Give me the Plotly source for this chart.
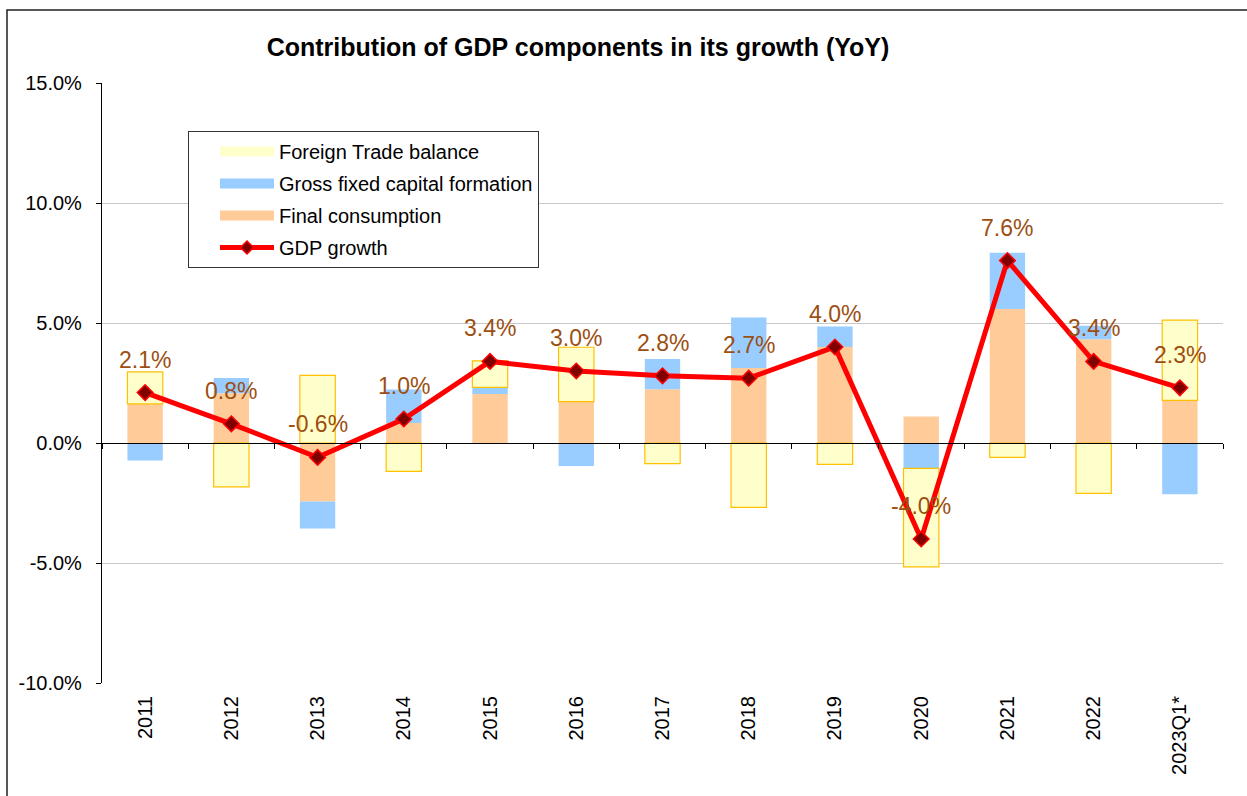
import plotly.graph_objects as go

years = ["2011", "2012", "2013", "2014", "2015", "2016", "2017", "2018",
         "2019", "2020", "2021", "2022", "2023Q1*"]
final_consumption = [1.63, 2.07, -2.44, 0.83, 2.04, 1.72, 2.24, 3.13, 4.00, 1.10, 5.58, 4.32, 1.78]
gross_fixed_capital = [-0.73, 0.64, -1.12, 1.40, 0.28, -0.96, 1.26, 2.10, 0.85, -1.06, 2.35, 0.57, -2.14]
foreign_trade = [1.33, -1.83, 2.82, -1.18, 1.10, 2.27, -0.86, -2.68, -0.89, -4.10, -0.60, -2.10, 3.34]
gdp_growth = [2.1, 0.8, -0.6, 1.0, 3.4, 3.0, 2.8, 2.7, 4.0, -4.0, 7.6, 3.4, 2.3]
y_ticks = [-10, -5, 0, 5, 10, 15]

C_CONS = "#FFCC99"
C_GFCF = "#99CCFF"
C_TRADE = "#FFFFCC"
C_TRADE_LINE = "#FFC000"
C_GDP = "#FF0000"
C_MARK = "#800000"
C_LABEL = "#9C4F12"
FONT = "Liberation Sans, Arial, sans-serif"

fig = go.Figure()

fig.add_trace(go.Bar(x=years, y=final_consumption, name="Final consumption",
                     marker=dict(color=C_CONS, line=dict(width=0)), showlegend=False))
fig.add_trace(go.Bar(x=years, y=gross_fixed_capital, name="Gross fixed capital formation",
                     marker=dict(color=C_GFCF, line=dict(width=0)), showlegend=False))
fig.add_trace(go.Bar(x=years, y=foreign_trade, name="Foreign Trade balance",
                     marker=dict(color=C_TRADE, line=dict(color=C_TRADE_LINE, width=1.2)),
                     showlegend=False))
fig.add_trace(go.Scatter(x=years, y=gdp_growth, name="GDP growth", mode="lines+markers",
                         line=dict(color=C_GDP, width=5),
                         marker=dict(symbol="diamond", size=12, color=C_MARK,
                                     line=dict(color=C_GDP, width=1.5)),
                         showlegend=False))

# legend entries (legend only)
leg = [("Foreign Trade balance", C_TRADE),
       ("Gross fixed capital formation", C_GFCF),
       ("Final consumption", C_CONS)]
for i, (nm, col) in enumerate(leg):
    fig.add_trace(go.Scatter(x=[None], y=[None], name=nm, mode="lines",
                             line=dict(color=col, width=10), legendgroup=f"g{i}",
                             showlegend=True))
fig.add_trace(go.Scatter(x=[None], y=[None], name="GDP growth", mode="lines+markers",
                         line=dict(color=C_GDP, width=5), legendgroup="g3",
                         marker=dict(symbol="diamond", size=10, color=C_MARK,
                                     line=dict(color=C_GDP, width=1.5)),
                         showlegend=True))

# overlay axis at zero (tick marks at category boundaries)
fig.add_trace(go.Scatter(x=years, y=[None] * len(years), xaxis="x2", mode="lines",
                         showlegend=False, hoverinfo="skip"))

# value labels (x given as category index so "2011" is not read as a number)
for i, v in enumerate(gdp_growth):
    fig.add_annotation(x=i, y=v, xref="x", yref="y", text=f"{v:.1f}%", showarrow=False,
                       yshift=33, yanchor="middle",
                       font=dict(family=FONT, size=23, color=C_LABEL))

W, H = 1247, 796
ml, mr, mt, mb = 102, 24, 83, 113
pw, ph = W - ml - mr, H - mt - mb

# outer chart border (cut at right/bottom in reference)
fig.add_shape(type="rect", xref="paper", yref="paper",
              x0=(7 - ml) / pw, x1=(W + 20 - ml) / pw,
              y0=-(mb + 20) / ph, y1=(H - 10 - mb) / ph,
              line=dict(color="#202020", width=1.5), fillcolor="rgba(0,0,0,0)", layer="below")

xrange = [-0.5, len(years) - 0.5]
fig.update_layout(
    width=W, height=H,
    margin=dict(l=ml, r=mr, t=mt, b=mb),
    paper_bgcolor="white", plot_bgcolor="white",
    barmode="relative", bargap=0.59,
    font=dict(family=FONT, size=20, color="black"),
    title=dict(text="<b>Contribution of GDP components in its growth (YoY)</b>",
               font=dict(family=FONT, size=25, color="black"),
               xref="container", x=578 / W, xanchor="center",
               yref="container", y=1 - 47 / H, yanchor="middle"),
    legend=dict(x=(188 - ml) / pw, y=(H - 131 - mb) / ph, xanchor="left", yanchor="top",
                bordercolor="#333333", borderwidth=1, bgcolor="white",
                font=dict(family=FONT, size=20, color="black"),
                itemwidth=54, indentation=26, entrywidth=327,
                traceorder="grouped", tracegroupgap=3,
                itemclick=False, itemdoubleclick=False),
    xaxis=dict(type="category", categoryorder="array", categoryarray=years, range=xrange,
               showline=False, ticks="", tickangle=-90, showgrid=False, zeroline=False,
               tickfont=dict(family=FONT, size=20, color="black"), ticklabelstandoff=8),
    xaxis2=dict(type="category", categoryorder="array", categoryarray=years, range=xrange,
                overlaying="x", anchor="free", position=0.4, side="bottom",
                showline=True, linecolor="black", linewidth=1.2,
                ticks="outside", tickson="boundaries", ticklen=5, tickcolor="black",
                showticklabels=False, showgrid=False, zeroline=False),
    yaxis=dict(range=[y_ticks[0], y_ticks[-1]], tickvals=y_ticks,
               ticktext=[f"{t:.1f}%" for t in y_ticks],
               showline=True, linecolor="black", linewidth=1.2,
               ticks="outside", ticklen=5, tickcolor="black",
               showgrid=True, gridcolor="#C8C8C8", gridwidth=1.2, zeroline=False,
               tickfont=dict(family=FONT, size=20, color="black"), ticklabelstandoff=10),
)

fig.write_html("out.html", config={"displayModeBar": False},
               post_script="document.body.style.margin='0';document.body.style.overflow='hidden';")
